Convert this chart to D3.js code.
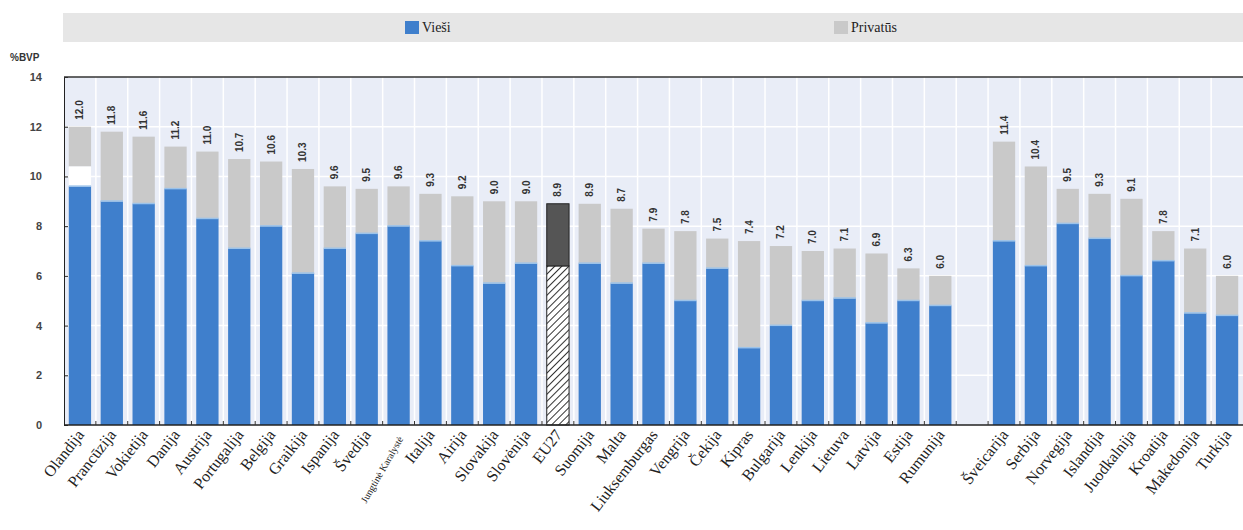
<!DOCTYPE html>
<html>
<head>
<meta charset="utf-8">
<script src="https://cdn.jsdelivr.net/npm/d3@7"></script>
<style>
  body { margin: 0; background: #fff; }
  svg { display: block; }
</style>
</head>
<body>
<div id="chart"></div>
<script>
// data ("" = empty slot between the two groups)
var countries = ["Olandija", "Prancūzija", "Vokietija", "Danija", "Austrija", "Portugalija", "Belgija",
  "Graikija", "Ispanija", "Švedija", "Jungtinė Karalystė", "Italija", "Airija", "Slovakija", "Slovėnija",
  "EU27", "Suomija", "Malta", "Liuksemburgas", "Vengrija", "Čekija", "Kipras", "Bulgarija", "Lenkija",
  "Lietuva", "Latvija", "Estija", "Rumunija", "", "Šveicarija", "Serbija", "Norvegija", "Islandija",
  "Juodkalnija", "Kroatija", "Makedonija", "Turkija"];
var totals = [12.0, 11.8, 11.6, 11.2, 11.0, 10.7, 10.6, 10.3, 9.6, 9.5, 9.6, 9.3, 9.2, 9.0, 9.0,
  8.9, 8.9, 8.7, 7.9, 7.8, 7.5, 7.4, 7.2, 7.0, 7.1, 6.9, 6.3, 6.0, null, 11.4, 10.4, 9.5, 9.3,
  9.1, 7.8, 7.1, 6.0];
var publicVals = [9.6, 9.0, 8.9, 9.5, 8.3, 7.1, 8.0, 6.1, 7.1, 7.7, 8.0, 7.4, 6.4, 5.7, 6.5,
  6.4, 6.5, 5.7, 6.5, 5.0, 6.3, 3.1, 4.0, 5.0, 5.1, 4.1, 5.0, 4.8, null, 7.4, 6.4, 8.1, 7.5,
  6.0, 6.6, 4.5, 4.4];
// blank (white) piece between public and private, only Olandija has one
var blankVals = [0.8, 0, 0, 0, 0, 0, 0, 0, 0, 0, 0, 0, 0, 0, 0,
  0, 0, 0, 0, 0, 0, 0, 0, 0, 0, 0, 0, 0, null, 0, 0, 0, 0, 0, 0, 0, 0];
var yTicks = [0, 2, 4, 6, 8, 10, 12, 14];
var legendLabels = ["Vieši", "Privatūs"];

var width = 1243, height = 530;
var plotLeft = 64, plotRight = 1243, plotTop = 77, plotBottom = 425;

var svg = d3.select("#chart").append("svg")
  .attr("width", width)
  .attr("height", height);

var defs = svg.append("defs");
var hatch = defs.append("pattern")
  .attr("id", "hatch")
  .attr("patternUnits", "userSpaceOnUse")
  .attr("width", 5).attr("height", 5)
  .attr("patternTransform", "rotate(45)");
hatch.append("rect").attr("width", 5).attr("height", 5).attr("fill", "#fff");
hatch.append("line").attr("x1", 0).attr("y1", 0).attr("x2", 0).attr("y2", 5)
  .attr("stroke", "#333").attr("stroke-width", 2);

var data = countries.map(function(c, i) {
  return { name: c, key: "k" + i, total: totals[i], pub: publicVals[i], blank: blankVals[i] };
});

var x = d3.scaleBand()
  .domain(data.map(function(d) { return d.key; }))
  .range([plotLeft, plotRight])
  .paddingInner(0.3)
  .paddingOuter(0.15);

var y = d3.scaleLinear().domain([0, 14]).range([plotBottom, plotTop]);

// legend band
svg.append("rect")
  .attr("x", 63).attr("y", 13).attr("width", plotRight - 63).attr("height", 29)
  .attr("fill", "#e6e6e6");
var legendColors = ["#3f7fcc", "#c9c9c9"];
var legendX = [405, 834];
legendLabels.forEach(function(l, i) {
  svg.append("rect")
    .attr("x", legendX[i]).attr("y", 21).attr("width", 14).attr("height", 13)
    .attr("fill", legendColors[i]);
  svg.append("text")
    .attr("x", legendX[i] + 17).attr("y", 32)
    .attr("font-family", "Liberation Serif, serif")
    .attr("font-size", 14)
    .attr("fill", "#222")
    .text(l);
});

// plot background
svg.append("rect")
  .attr("x", plotLeft).attr("y", plotTop)
  .attr("width", plotRight - plotLeft).attr("height", plotBottom - plotTop)
  .attr("fill", "#e9edf7");

// horizontal grid
svg.selectAll(".hgrid")
  .data(yTicks.filter(function(t) { return t > 0 && t < 14; }))
  .enter().append("line")
  .attr("x1", plotLeft).attr("x2", plotRight)
  .attr("y1", function(d) { return y(d); })
  .attr("y2", function(d) { return y(d); })
  .attr("stroke", "#fff").attr("stroke-width", 1.5);

// vertical grid at slot boundaries
var bounds = d3.range(1, data.length).map(function(i) { return plotLeft + i * x.step(); });
svg.selectAll(".vgrid")
  .data(bounds)
  .enter().append("line")
  .attr("x1", function(d) { return d; }).attr("x2", function(d) { return d; })
  .attr("y1", plotTop).attr("y2", plotBottom)
  .attr("stroke", "#fff").attr("stroke-width", 1.5);

var bars = data.filter(function(d) { return d.total !== null; });

// public part
svg.selectAll(".pub")
  .data(bars)
  .enter().append("rect")
  .attr("x", function(d) { return x(d.key); })
  .attr("width", x.bandwidth())
  .attr("y", function(d) { return y(d.pub); })
  .attr("height", function(d) { return y(0) - y(d.pub); })
  .attr("fill", function(d) { return d.name === "EU27" ? "url(#hatch)" : "#3f7fcc"; })
  .attr("stroke", function(d) { return d.name === "EU27" ? "#222" : "none"; });

// private part
svg.selectAll(".priv")
  .data(bars)
  .enter().append("rect")
  .attr("x", function(d) { return x(d.key); })
  .attr("width", x.bandwidth())
  .attr("y", function(d) { return y(d.total); })
  .attr("height", function(d) { return y(d.pub + d.blank) - y(d.total); })
  .attr("fill", function(d) { return d.name === "EU27" ? "#555" : "#c9c9c9"; })
  .attr("stroke", function(d) { return d.name === "EU27" ? "#222" : "none"; });

// blank piece
svg.selectAll(".blank")
  .data(bars.filter(function(d) { return d.blank > 0; }))
  .enter().append("rect")
  .attr("x", function(d) { return x(d.key); })
  .attr("width", x.bandwidth())
  .attr("y", function(d) { return y(d.pub + d.blank); })
  .attr("height", function(d) { return y(d.pub) - y(d.pub + d.blank); })
  .attr("fill", "#fff");

// thin light edge on top of the public part
svg.selectAll(".edge")
  .data(bars.filter(function(d) { return d.name !== "EU27"; }))
  .enter().append("rect")
  .attr("x", function(d) { return x(d.key); })
  .attr("width", x.bandwidth())
  .attr("y", function(d) { return y(d.pub) - 1; })
  .attr("height", 1.5)
  .attr("fill", "#9cc3ea");

// value labels
svg.selectAll(".val")
  .data(bars)
  .enter().append("text")
  .attr("transform", function(d) {
    return "translate(" + (x(d.key) + x.bandwidth() / 2 + 3.5) + "," + (y(d.total) - 7) + ") rotate(-90)";
  })
  .attr("font-family", "Liberation Sans, Arial, sans-serif")
  .attr("font-size", 10)
  .attr("font-weight", "bold")
  .attr("fill", "#333")
  .text(function(d) { return d.total.toFixed(1); });

// axes
var yAxis = d3.axisLeft(y).tickValues(yTicks).tickSize(-4).tickPadding(22);
var gy = svg.append("g").attr("transform", "translate(" + plotLeft + ",0)").call(yAxis);
gy.select(".domain").attr("stroke", "#222");
gy.selectAll(".tick line").attr("stroke", "#222");
gy.selectAll(".tick text")
  .attr("font-family", "Liberation Sans, Arial, sans-serif")
  .attr("font-size", 11).attr("font-weight", "bold").attr("fill", "#444");

// top border
svg.append("line")
  .attr("x1", plotLeft).attr("x2", plotRight).attr("y1", plotTop).attr("y2", plotTop)
  .attr("stroke", "#333").attr("stroke-width", 1.5);

// bottom axis and ticks at slot boundaries
svg.append("line")
  .attr("x1", plotLeft).attr("x2", plotRight).attr("y1", plotBottom).attr("y2", plotBottom)
  .attr("stroke", "#222").attr("stroke-width", 1.5);
svg.selectAll(".xtick")
  .data(bounds)
  .enter().append("line")
  .attr("x1", function(d) { return d; }).attr("x2", function(d) { return d; })
  .attr("y1", plotBottom).attr("y2", plotBottom - 4)
  .attr("stroke", "#333");

svg.append("text")
  .attr("x", 10).attr("y", 61)
  .attr("font-family", "Liberation Sans, Arial, sans-serif")
  .attr("font-size", 10).attr("font-weight", "bold").attr("fill", "#333")
  .text("%BVP");

// category labels
svg.selectAll(".xlab")
  .data(bars)
  .enter().append("text")
  .attr("transform", function(d) {
    var small = d.name === "Jungtinė Karalystė";
    return "translate(" + (x(d.key) + x.bandwidth() / 2 + 5) + "," + (plotBottom + (small ? 14 : 10)) + ") rotate(" + (small ? -60 : -52) + ")";
  })
  .attr("text-anchor", "end")
  .attr("font-family", "Liberation Serif, serif")
  .attr("font-size", function(d) { return d.name === "Jungtinė Karalystė" ? 10 : 16; })
  .attr("fill", "#222")
  .text(function(d) { return d.name; });
</script>
</body>
</html>
